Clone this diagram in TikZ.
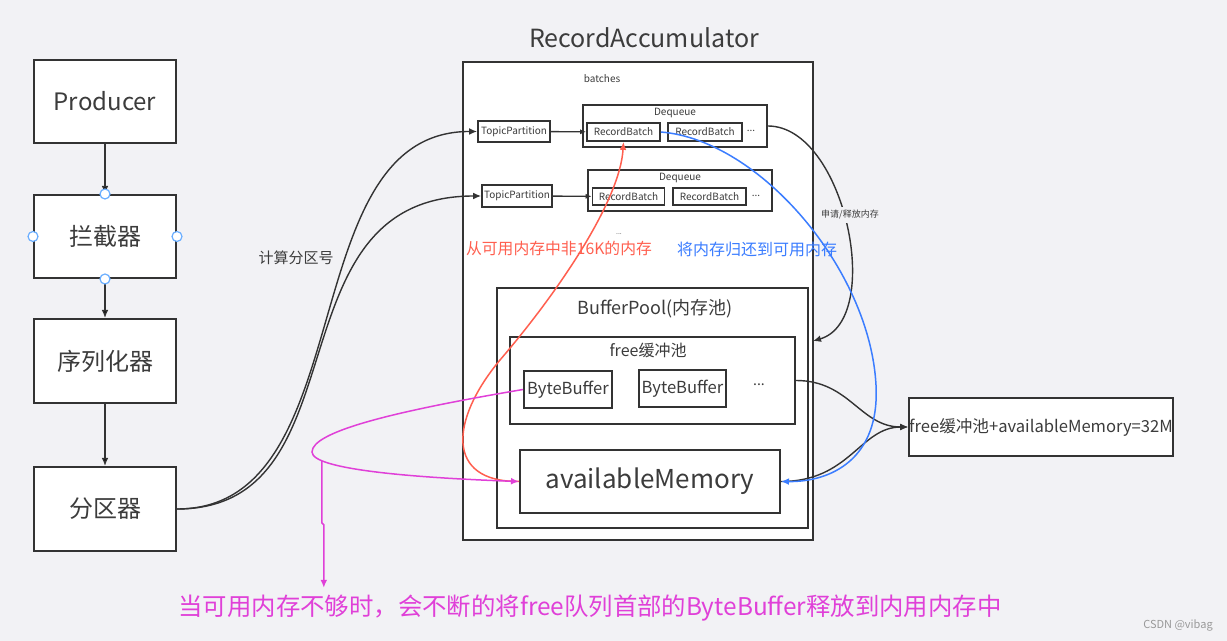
\documentclass[tikz,border=0pt]{standalone}
\usepackage{fontspec}
\setmainfont{Noto Sans CJK SC}
\usetikzlibrary{
	arrows.meta
}
\definecolor{bgcolor}{HTML}{F2F2F5}
\definecolor{linecolor}{HTML}{333333}
\definecolor{textcolor}{HTML}{3C3C3C}
\definecolor{redline}{HTML}{FF5F4F}
\definecolor{blueline}{HTML}{3B7DFF}
\definecolor{magline}{HTML}{E040D8}
\definecolor{handleblue}{HTML}{6AAEFF}
\tikzset{
	>={Latex[length=4pt,width=3.4pt]},
	small>/.style={-{Latex[length=3pt,width=2.6pt]}},
	blocknode/.style={draw=linecolor, line width=1pt, fill=white, text=textcolor, inner sep=0pt},
	stagenode/.style={blocknode, minimum width=71pt, minimum height=41.5pt, font=\fontsize{12}{14}\selectfont},
	smallnode/.style={blocknode, line width=0.9pt, font=\fontsize{5}{6}\selectfont},
	handle/.style={circle, draw=handleblue, fill=white, line width=0.6pt, minimum size=5pt, inner sep=0pt},
	tag/.style={text=textcolor, inner sep=1pt},
	flowedge/.style={draw=linecolor, line width=0.7pt},
	coloredge/.style={line width=0.75pt}
}

\begin{document}
\begin{tikzpicture}[x=0.5pt, y=-0.5pt]
	\fill[bgcolor] (0,0) rectangle (1227,641);
	\useasboundingbox (0,0) rectangle (1227,641);

	\node[stagenode] (producer) at (105,101.5) {Producer};
	\node[stagenode] (interceptor) at (105,236.5) {拦截器};
	\node[stagenode, minimum height=42pt] (serializer) at (105,361) {序列化器};
	\node[stagenode, minimum height=42pt] (partitioner) at (105,509) {分区器};

	\node[blocknode, minimum width=175pt, minimum height=239pt] (accum) at (638,301) {};
	\node[tag, font=\fontsize{12.5}{15}\selectfont] (accumtitle) at (644,38) {RecordAccumulator};
	\node[tag, font=\fontsize{5}{6}\selectfont] (batches) at (602,79) {batches};

	\node[smallnode, minimum width=92pt, minimum height=21pt] (deque1) at (675,126) {};
	\node[tag, font=\fontsize{5}{6}\selectfont] (dequetag1) at (675,113) {Dequeue};
	\node[smallnode, minimum width=36.5pt, minimum height=9pt] (rb11) at (623.5,132) {RecordBatch};
	\node[smallnode, minimum width=37pt, minimum height=9pt] (rb12) at (705,132) {RecordBatch};
	\node[tag, font=\fontsize{5}{6}\selectfont] (dots1) at (751,131) {...};
	\node[smallnode, minimum width=36pt, minimum height=10.5pt] (tp1) at (514,131.5) {TopicPartition};

	\node[smallnode, minimum width=92pt, minimum height=20.5pt] (deque2) at (680,190.5) {};
	\node[tag, font=\fontsize{5}{6}\selectfont] (dequetag2) at (680,178) {Dequeue};
	\node[smallnode, minimum width=36pt, minimum height=8.5pt] (rb21) at (628.5,196.5) {RecordBatch};
	\node[smallnode, minimum width=36.5pt, minimum height=8.5pt] (rb22) at (709.5,196.5) {RecordBatch};
	\node[tag, font=\fontsize{5}{6}\selectfont] (dots2) at (756,196) {...};
	\node[smallnode, minimum width=35pt, minimum height=11pt] (tp2) at (517,196) {TopicPartition};
	\node[tag, font=\fontsize{3.5}{4}\selectfont] (dots3) at (619,234) {...};

	\node[text=redline, inner sep=0pt, font=\fontsize{7.9}{9}\selectfont] (redtag) at (559,249) {从可用内存中非16K的内存};
	\node[text=blueline, inner sep=0pt, font=\fontsize{8}{9}\selectfont] (bluetag) at (757,249) {将内存归还到可用内存};

	\node[blocknode, minimum width=155.5pt, minimum height=120pt] (pool) at (652.5,408) {};
	\node[tag, font=\fontsize{9}{11}\selectfont] (pooltag) at (655,309) {BufferPool(内存池)};
	\node[blocknode, minimum width=142.5pt, minimum height=43.5pt] (free) at (652.5,380.5) {};
	\node[tag, font=\fontsize{8}{10}\selectfont] (freetag) at (648,350) {free缓冲池};
	\node[blocknode, minimum width=44pt, minimum height=18.5pt, font=\fontsize{8.3}{10}\selectfont] (bb1) at (568,389.5) {ByteBuffer};
	\node[blocknode, minimum width=43.5pt, minimum height=18.5pt, font=\fontsize{8.3}{10}\selectfont] (bb2) at (682.5,388.5) {ByteBuffer};
	\node[tag, font=\fontsize{7}{8}\selectfont] (dots4) at (759,385) {...};
	\node[blocknode, minimum width=130pt, minimum height=31.5pt, font=\fontsize{13}{15}\selectfont] (amem) at (650,481.5) {availableMemory};

	\node[blocknode, minimum width=131pt, minimum height=29pt, font=\fontsize{8.3}{10}\selectfont] (total) at (1041,427) {free缓冲池+availableMemory=32M};

	\node[tag, font=\fontsize{7.5}{9}\selectfont] (calctag) at (296,258) {计算分区号};
	\node[text=magline, inner sep=0pt, font=\fontsize{12.2}{14}\selectfont] (note) at (590,608) {当可用内存不够时，会不断的将free队列首部的ByteBuffer释放到内用内存中};
	\node[text=black!40, inner sep=0pt, font=\fontsize{5.5}{7}\selectfont] (csdn) at (1178,625) {CSDN @vibag};

	\path[flowedge, ->]
		(producer) edge (interceptor)
		(interceptor) edge (serializer)
		(serializer) edge (partitioner)
	;
	\path[flowedge, small>]
		(tp1) edge (rb11)
		(tp2) edge (rb21)
	;

	\foreach \side in {north,south,west,east}
		\node[handle] (handle-\side) at (interceptor.\side) {};

	\draw[flowedge, ->] (partitioner.east) .. controls (364,509) and (290,131) .. (tp1.west);
	\draw[flowedge, ->] (partitioner.east) .. controls (366,509) and (267,196) .. (tp2.west);

	\coordinate (poolin) at (813,341);
	\draw[flowedge, ->] (deque1.east) .. controls (845,126) and (885,320) .. (poolin);
	\node[text=textcolor, fill=bgcolor, inner sep=1.5pt, font=\fontsize{4.5}{5}\selectfont] (applytag) at (850,215) {申请/释放内存};

	\draw[flowedge, ->] (free.east) .. controls (850,380.5) and (860,427) .. (total.west);
	\draw[flowedge, ->] (amem.east) .. controls (850,481.5) and (860,427) .. (total.west);

	\draw[coloredge, blueline, ->] (rb11.east) .. controls (760,140) and (870,270) .. (876,385)
		.. controls (880,460) and (830,482) .. (amem.east);
	\draw[coloredge, redline, ->] (amem.west) .. controls (445,482) and (450,420) .. (500,360)
		.. controls (560,290) and (620,200) .. (rb11.south);
	\draw[coloredge, magline, ->] (bb1.west) .. controls (390,412) and (312,432) .. (312,452)
		.. controls (312,470) and (420,478) .. (amem.west) coordinate[pos=0.18] (drop);
	\draw[coloredge, magline, ->] (drop) -- ++(0,62) -- ++(2,2) -- ++(0,63);
\end{tikzpicture}
\end{document}
